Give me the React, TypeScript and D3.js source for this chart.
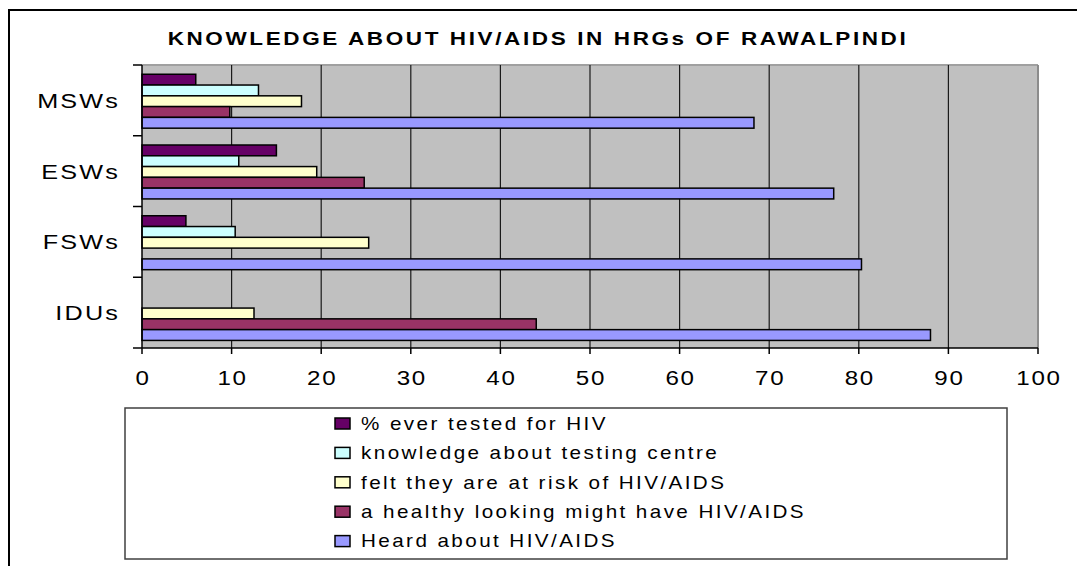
import React from "react";
import * as d3 from "d3";

// Survey groups, drawn top to bottom
const groups = ["MSWs", "ESWs", "FSWs", "IDUs"];

// Indicator names, in the order they stack inside each group (top to bottom)
const seriesNames = [
  "% ever tested for HIV",
  "knowledge about testing centre",
  "felt they are at risk of HIV/AIDS",
  "a healthy looking might have HIV/AIDS",
  "Heard about HIV/AIDS",
];

const seriesColors = ["#660066", "#CCFFFF", "#FFFFCC", "#993366", "#9999FF"];

// Percent values per indicator, one value per group (MSWs, ESWs, FSWs, IDUs)
const everTested = [6, 15, 4.9, 0];
const knowsTestingCentre = [13, 10.8, 10.4, 0];
const feltAtRisk = [17.8, 19.5, 25.3, 12.5];
const healthyMightHave = [9.8, 24.8, 0, 44];
const heardAbout = [68.3, 77.2, 80.3, 88];

const seriesValues = [everTested, knowsTestingCentre, feltAtRisk, healthyMightHave, heardAbout];

const xTicks = [0, 10, 20, 30, 40, 50, 60, 70, 80, 90, 100];

const titleText = "KNOWLEDGE ABOUT HIV/AIDS IN HRGs OF RAWALPINDI";

const W = 1077;
const H = 566;
const FONT = "'Liberation Sans', Arial, Helvetica, sans-serif";

export default function App() {
  const plot = { left: 142, right: 1038, top: 65, bottom: 348 };

  const x = d3.scaleLinear().domain([0, 100]).range([plot.left, plot.right]);
  const y = d3.scaleBand<string>().domain(groups).range([plot.top, plot.bottom]).padding(0);
  const inner = d3
    .scaleBand<string>()
    .domain(seriesNames)
    .range([0, y.bandwidth()])
    .paddingInner(0)
    .paddingOuter(0.78)
    .align(0.55);

  const bars: { key: string; x: number; y: number; w: number; h: number; fill: string }[] = [];
  seriesNames.forEach((name, si) => {
    groups.forEach((g, gi) => {
      const v = seriesValues[si][gi];
      if (v <= 0) return;
      bars.push({
        key: `${name}-${g}`,
        x: x(0),
        y: (y(g) as number) + (inner(name) as number),
        w: x(v) - x(0),
        h: inner.bandwidth(),
        fill: seriesColors[si],
      });
    });
  });

  const legend = { x: 125, y: 408, w: 882, h: 151, swatchX: 335, textX: 361, firstY: 423.5, step: 29.4 };

  return (
    <svg
      width={W}
      height={H}
      style={{ position: "absolute", left: 0, top: 0, background: "#fff" }}
      fontFamily={FONT}
    >
      {/* chart frame */}
      <rect x={9} y={10} width={1200} height={700} fill="#fff" stroke="#000" strokeWidth={2} />

      {/* title */}
      <text
        transform={`translate(538,44.5) scale(1.25,1)`}
        textAnchor="middle"
        fontWeight="bold"
        fontSize={18}
        letterSpacing={2.1}
        fill="#000"
      >
        {titleText}
      </text>

      {/* plot area */}
      <rect x={plot.left} y={plot.top} width={plot.right - plot.left} height={plot.bottom - plot.top} fill="#C0C0C0" />
      <line x1={plot.left} x2={plot.right} y1={plot.top} y2={plot.top} stroke="#a0a0a0" strokeWidth={2} />
      <line x1={plot.right} x2={plot.right} y1={plot.top} y2={plot.bottom} stroke="#8c8c8c" strokeWidth={2} />

      {/* vertical gridlines */}
      {xTicks.slice(1, -1).map((t) => (
        <line key={`g${t}`} x1={x(t)} x2={x(t)} y1={plot.top} y2={plot.bottom} stroke="#1a1a1a" strokeWidth={1.2} />
      ))}

      {/* bars */}
      {bars.map((b) => (
        <rect key={b.key} x={b.x} y={b.y} width={b.w} height={b.h} fill={b.fill} stroke="#000" strokeWidth={1.5} />
      ))}

      {/* axes */}
      <line x1={plot.left} x2={plot.left} y1={plot.top} y2={plot.bottom} stroke="#000" strokeWidth={1.5} />
      <line x1={plot.left - 9} x2={plot.right} y1={plot.bottom} y2={plot.bottom} stroke="#000" strokeWidth={1.5} />
      {groups.map((g) => (
        <line key={`yt${g}`} x1={plot.left - 9} x2={plot.left} y1={y(g)} y2={y(g)} stroke="#000" strokeWidth={1.5} />
      ))}
      {xTicks.map((t) => (
        <line key={`xt${t}`} x1={x(t)} x2={x(t)} y1={plot.bottom} y2={plot.bottom + 6} stroke="#000" strokeWidth={1.5} />
      ))}

      {/* category labels */}
      {groups.map((g) => (
        <text
          key={`yl${g}`}
          transform={`translate(120,${(y(g) as number) + y.bandwidth() / 2 + 7.5}) scale(1.2,1)`}
          textAnchor="end"
          fontSize={21}
          letterSpacing={1.8}
          fill="#000"
        >
          {g}
        </text>
      ))}

      {/* value axis labels */}
      {xTicks.map((t) => (
        <text
          key={`xl${t}`}
          transform={`translate(${x(t) + 1},384.5) scale(1.15,1)`}
          textAnchor="middle"
          fontSize={21}
          letterSpacing={1.5}
          fill="#000"
        >
          {t}
        </text>
      ))}

      {/* legend */}
      <rect x={legend.x} y={legend.y} width={legend.w} height={legend.h} fill="#fff" stroke="#404040" strokeWidth={1.5} />
      {seriesNames.map((name, i) => {
        const cy = legend.firstY + i * legend.step;
        return (
          <g key={`lg${i}`}>
            <rect x={legend.swatchX} y={cy - 5.5} width={15} height={11} fill={seriesColors[i]} stroke="#000" strokeWidth={1.5} />
            <text
              transform={`translate(${legend.textX},${cy + 6.3}) scale(1.18,1)`}
              fontSize={17.5}
              letterSpacing={2.05}
              fill="#000"
            >
              {name}
            </text>
          </g>
        );
      })}
    </svg>
  );
}
